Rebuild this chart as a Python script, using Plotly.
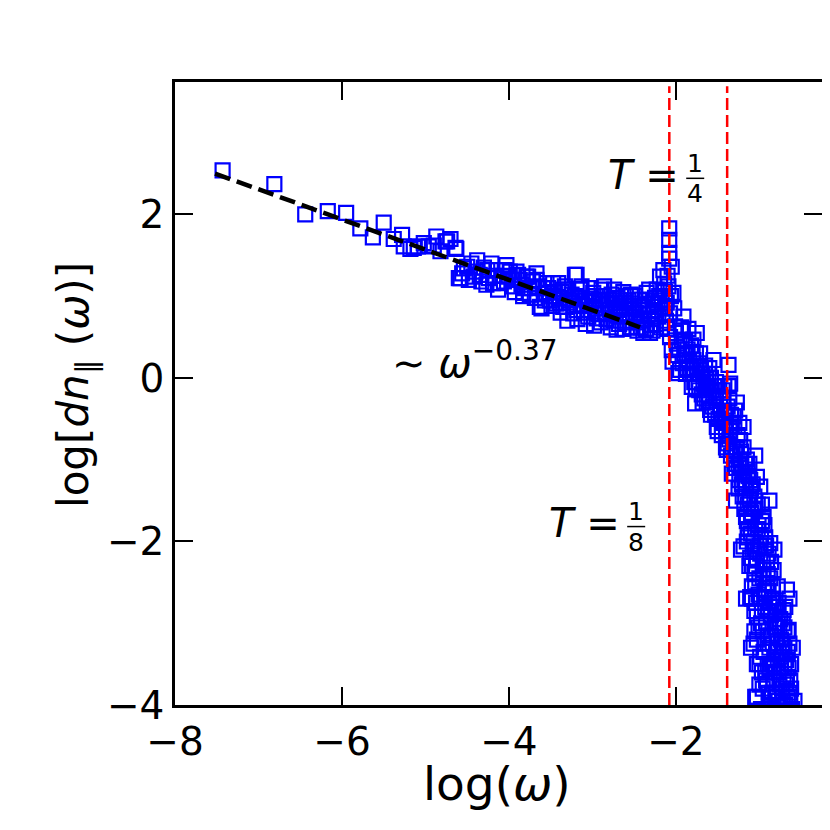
import plotly.graph_objects as go

# ---- data ----
sparse_x = [-7.43, -6.81, -6.44, -6.17, -5.95, -5.78, -5.63, -5.50, -5.38, -5.28, -5.18, -5.09,
            -4.96, -4.90, -4.87, -4.76, -4.70, -4.63, -4.82, -5.26, -5.14, -5.02, -4.74, -4.64]
sparse_y = [2.54, 2.37, 2.00, 2.04, 2.02, 1.83, 1.72, 1.90, 1.70, 1.75, 1.58, 1.61,
            1.61, 1.62, 1.73, 1.67, 1.70, 1.58, 1.55, 1.61, 1.59, 1.65, 1.67, 1.59]

mid_x = [-4.60, -4.58, -4.54, -4.50, -4.42, -4.38, -4.35, -4.30, -4.27, -4.26, -4.19, -4.15,
         -4.11, -4.08, -4.03, -4.01, -3.99, -3.95, -3.91, -3.87, -3.83, -3.83, -3.79, -3.77,
         -3.73, -3.67, -3.67, -3.63, -3.61, -3.59, -3.55, -3.55, -3.51, -3.47, -3.47, -3.43,
         -3.41, -3.37, -3.35, -3.35, -3.31, -3.29, -3.27, -3.23, -3.21, -3.21, -3.19, -3.19, -3.15,
         -4.56, -4.48, -4.45, -4.40, -4.33, -4.24, -4.21, -4.17, -4.13, -4.06, -4.05, -3.97,
         -3.93, -3.89, -3.85, -3.81, -3.75, -3.71, -3.69, -3.65, -3.57, -3.53, -3.49, -3.45, -3.39]
mid_y = [1.22, 1.22, 1.34, 1.36, 1.24, 1.44, 1.26, 1.35, 1.14, 1.32, 1.16, 1.32,
         1.16, 1.25, 1.38, 1.24, 1.30, 1.12, 1.30, 1.20, 1.00, 1.04, 1.24, 1.24,
         1.10, 1.28, 1.20, 0.87, 0.85, 1.10, 1.16, 1.04, 0.95, 1.00, 1.16, 0.91,
         1.16, 1.05, 0.87, 1.08, 0.87, 1.08, 0.95, 0.79, 1.26, 1.00, 0.83, 1.26, 1.08,
         1.28, 1.20, 1.40, 1.30, 1.18, 1.22, 1.40, 1.25, 1.08, 1.18, 1.32, 1.20,
         1.05, 1.26, 1.14, 1.10, 1.02, 1.18, 0.98, 1.12, 0.95, 1.10, 0.88, 1.05, 0.92]

plateau_x = [-3.12, -3.07, -3.05, -3.02, -2.99, -2.97, -2.95, -2.92, -2.89, -2.87, -2.85, -2.82,
             -2.79, -2.77, -2.75, -2.73, -2.71, -2.69, -2.67, -2.65, -2.63, -2.61, -2.59, -2.57,
             -2.55, -2.53, -2.51, -2.49, -2.47, -2.45, -2.43, -2.41, -2.39, -2.37, -2.35, -2.33,
             -2.31, -2.29, -2.27, -2.25, -2.23, -2.21, -2.19, -2.18, -2.17, -2.15, -2.14, -2.13, -2.12,
             -3.40, -3.38, -3.33, -3.30, -3.28, -3.25, -3.22, -3.18, -3.16, -3.13, -3.10, -3.08,
             -3.04, -3.01, -2.98, -2.96, -2.93, -2.90, -2.88, -2.86, -2.83, -2.81, -2.78, -2.76,
             -2.74, -2.72, -2.70, -2.68, -2.66, -2.64, -2.62, -2.60, -2.58, -2.56, -2.54, -2.52,
             -2.50, -2.48, -2.46, -2.44, -2.42, -2.40, -2.38, -2.36, -2.34, -2.32, -2.30, -2.28,
             -2.26, -2.24, -2.22, -2.20, -2.16, -2.11, -2.10, -2.13]
plateau_y = [0.90, 0.95, 0.75, 1.10, 1.04, 0.85, 0.73, 0.95, 1.08, 1.00, 0.80, 0.90,
             0.83, 1.02, 0.70, 0.92, 0.59, 0.85, 0.95, 0.75, 1.05, 0.68, 0.79, 0.95,
             0.62, 0.91, 0.75, 1.00, 0.68, 0.88, 0.83, 0.70, 0.55, 0.95, 1.04, 0.78,
             0.55, 0.65, 0.87, 0.98, 1.08, 0.75, 1.24, 0.62, 0.95, 1.32, 1.15, 0.85, 0.70,
             0.98, 0.80, 1.12, 0.70, 0.92, 1.02, 0.88, 0.72, 0.98, 1.12, 0.80, 0.66,
             0.88, 0.97, 0.64, 1.00, 0.78, 0.68, 0.90, 1.12, 0.72, 0.96, 0.62, 0.86,
             1.08, 0.78, 0.98, 0.66, 0.88, 0.60, 0.92, 1.00, 0.70, 0.85, 1.02, 0.62,
             0.88, 0.80, 0.58, 0.96, 0.62, 0.86, 0.72, 0.60, 0.90, 1.08, 0.72, 0.58,
             0.78, 0.66, 0.90, 1.00, 0.78, 0.92, 0.60, 1.05]

peak_x = [-2.08, -2.08, -2.08, -2.08, -2.05, -2.09, -2.10, -2.07, -2.06, -2.03, -2.01, -2.05,
          -2.07, -2.04, -2.02]
peak_y = [1.83, 1.69, 1.53, 1.46, 1.36, 1.12, 1.25, 0.79, 1.00, 1.04, 0.63, 0.34,
          0.50, 0.20, 0.85]

fall_x = [-1.97, -1.99, -1.95, -1.93, -1.91, -1.90, -1.87, -1.85, -1.83, -1.81, -1.79, -1.79,
          -1.77, -1.75, -1.75, -1.73, -1.71, -1.69, -1.67, -1.65, -1.63, -1.61, -1.59, -1.57,
          -1.55, -1.53, -1.51, -1.50, -1.47, -1.45, -1.43, -1.41, -1.39, -1.37, -1.37, -1.35,
          -1.35, -1.33, -1.31, -1.29, -1.27, -1.25, -1.23, -1.23, -1.21, -1.19, -1.19, -1.17,
          -1.15, -1.15, -1.13, -1.11, -1.11, -1.11, -1.10, -1.09, -1.07, -1.07, -1.05, -1.03,
          -1.03, -1.03, -1.03, -1.01, -1.00, -0.99, -0.99, -0.98, -0.97, -0.96, -0.95, -0.95,
          -0.93, -0.93, -0.91, -0.91, -0.90, -0.89, -0.88, -0.87, -0.86, -0.85, -0.84, -0.83,
          -0.82, -0.81, -0.79, -0.79, -0.78, -0.77, -0.75, -0.75, -0.73, -0.72, -0.71, -0.70,
          -0.69, -0.67, -0.67, -0.66, -0.65, -0.64, -0.63, -0.62, -0.61, -0.68, -0.75,
          -1.40, -1.05, -1.28, -0.88, -1.22, -0.82, -1.16, -0.64, -1.10, -0.60, -1.05, -0.58]
fall_y = [0.06, 0.42, 0.10, 0.47, 0.75, 0.30, 0.22, 0.60, 0.05, -0.11, 0.47, 0.22,
          -0.31, 0.14, 0.55, -0.05, 0.30, -0.20, -0.07, 0.15, -0.30, 0.05, -0.39, -0.15,
          0.22, -0.45, -0.60, -0.10, -0.35, -0.70, -0.27, -0.55, -0.88, 0.16, -0.10, -0.07,
          -0.65, -1.17, -0.47, -0.90, -0.30, -1.05, -0.76, -1.00, -1.30, -2.06, -0.60, -1.45,
          -1.00, -1.75, -1.20, -1.25, -1.49, -2.68, -1.90, -2.30, -1.60, -3.25, -2.50, -1.21,
          -2.23, -2.92, -3.90, -1.80, -2.05, -1.33, -3.41, -2.70, -1.55, -3.10, -1.70, -2.35,
          -3.60, -1.95, -2.51, -3.74, -2.85, -2.15, -3.30, -2.02, -4.00, -2.70, -3.50, -2.35,
          -3.05, -3.85, -3.17, -3.90, -2.55, -3.60, -3.41, -2.95, -3.80, -3.25, -2.84, -3.55,
          -4.00, -2.59, -3.66, -3.35, -3.08, -3.85, -3.90, -3.50, -4.05, -4.10, -4.10,
          -0.85, -0.95, -1.50, -1.50, -2.10, -2.10, -2.70, -2.70, -3.30, -3.30, -3.90, -3.95]

fall2_x = [-2.00, -1.96, -1.94, -1.92, -1.89, -1.88, -1.86, -1.84, -1.82, -1.80, -1.78, -1.76,
           -1.74, -1.72, -1.70, -1.68, -1.66, -1.64, -1.62, -1.60, -1.58, -1.56, -1.54, -1.52,
           -1.49, -1.48, -1.46, -1.44, -1.42, -1.40, -1.38, -1.36, -1.34, -1.32, -1.30, -1.28,
           -1.26, -1.24, -1.22, -1.20, -1.18, -1.17, -1.16, -1.14, -1.13, -1.12, -1.10, -1.09,
           -1.08, -1.06, -1.06, -1.05, -1.04, -1.02, -1.02, -1.01, -1.00, -0.98, -0.97, -0.97,
           -0.96, -0.94, -0.94, -0.94, -0.92, -0.92, -0.90, -0.90, -0.89, -0.88, -0.86, -0.86,
           -0.84, -0.83, -0.81, -0.80, -0.78, -0.77, -0.76, -0.74, -0.72, -0.72, -0.70, -0.69,
           -0.68, -0.66, -0.65, -0.63, -1.00, -0.98, -0.92, -0.84, -1.03, -1.06, -1.09, -1.12, -1.15]
fall2_y = [0.55, 0.35, 0.62, 0.18, 0.45, 0.05, 0.35, 0.20, 0.40, 0.10, -0.05, 0.30,
           0.05, -0.15, 0.10, 0.05, -0.25, 0.00, -0.10, -0.25, 0.00, -0.35, -0.10, -0.25,
           -0.50, -0.15, -0.45, -0.15, -0.40, -0.65, -0.35, -0.75, -0.45, -0.85, -0.60, -1.10,
           -0.70, -1.25, -0.90, -1.15, -1.60, -1.05, -1.35, -1.55, -1.85, -1.05, -1.35, -1.70,
           -2.10, -1.45, -2.40, -1.85, -2.75, -1.55, -2.10, -3.05, -2.45, -1.95, -2.85, -3.60,
           -2.25, -1.80, -2.60, -3.25, -2.05, -3.00, -2.40, -3.50, -3.85, -2.75, -2.25, -3.15,
           -2.55, -3.70, -2.85, -3.35, -3.00, -2.75, -3.75, -3.20, -3.00, -3.95, -3.30, -2.80,
           -3.75, -3.10, -3.55, -3.70, -3.75, -4.05, -4.08, -4.05, -3.50, -3.10, -2.70, -2.30, -2.00]

fall3_x = [-1.98, -1.92, -1.86, -1.80, -1.76, -1.72, -1.68, -1.64, -1.60, -1.58, -1.55, -1.52,
           -1.50, -1.47, -1.44, -1.42, -1.40, -1.38, -1.36, -1.34, -1.33, -1.30, -1.29, -1.27,
           -1.25, -1.24, -1.22, -1.20, -1.19, -1.18, -1.16, -1.14, -1.14, -1.12, -1.11, -1.10,
           -1.09, -1.08, -1.07, -1.06, -1.05, -1.04, -1.03, -1.02, -1.01, -1.00, -0.99, -0.98,
           -0.97, -0.96, -0.96, -0.95, -0.94, -0.93, -0.92, -0.91, -0.90, -0.89, -0.88, -0.87,
           -0.86, -0.85, -0.84, -0.83, -0.82, -0.80, -0.79, -0.78, -0.77, -0.76, -0.74, -0.73,
           -0.71, -0.70, -0.68, -0.66, -0.64, -0.62]
fall3_y = [0.28, 0.58, 0.12, 0.32, -0.12, 0.18, -0.30, -0.12, 0.12, -0.45, -0.22, -0.05,
           -0.65, -0.25, -0.55, -0.10, -0.45, -0.80, -0.25, -0.95, -0.60, -1.05, -0.40, -0.85,
           -1.35, -0.55, -1.10, -1.45, -0.85, -1.25, -1.70, -1.15, -1.95, -1.45, -2.20, -1.65,
           -2.55, -1.30, -2.00, -2.85, -1.60, -2.30, -3.20, -1.85, -2.65, -3.50, -2.15, -3.00,
           -1.75, -2.45, -3.80, -3.35, -2.05, -2.80, -3.70, -2.25, -3.15, -2.60, -3.55, -2.45,
           -2.90, -3.85, -3.25, -2.75, -3.60, -3.05, -2.80, -3.45, -3.95, -3.05, -3.55, -3.35,
           -3.70, -3.05, -3.45, -3.90, -3.25, -3.80]

data_x = sparse_x + mid_x + plateau_x + peak_x + fall_x + fall2_x + fall3_x
data_y = sparse_y + mid_y + plateau_y + peak_y + fall_y + fall2_y + fall3_y

fit_x = [-7.52, -2.43]
fit_y = [2.50, 0.62]

vlines_x = [-2.079, -1.386]   # ln(1/8), ln(1/4)

x_ticks = [-8, -6, -4, -2]
y_ticks = [-4, -2, 0, 2]

FONT = "DejaVu Sans"

fig = go.Figure()
fig.add_trace(go.Scatter(
    x=data_x, y=data_y, mode="markers",
    marker=dict(symbol="square-open", size=14, color="#0000ff", line=dict(width=2.2, color="#0000ff")),
    showlegend=False, cliponaxis=True))
fig.add_trace(go.Scatter(
    x=fit_x, y=fit_y, mode="lines",
    line=dict(color="black", width=4.5, dash="16px,7px"), showlegend=False))

for vx in vlines_x:
    fig.add_shape(type="line", xref="x", yref="paper", x0=vx, x1=vx, y0=0, y1=0.993,
                  line=dict(color="#ff0000", width=2.5, dash="12px,5px"))

def px2x(px):
    return -8 + (px - 175) / 83.45

def py2y(py):
    return (378 - py) / 81.7

ann = []
# T = 1/4
ann.append(dict(x=px2x(643), y=py2y(175), text="<i>T</i> =", font=dict(size=40)))
ann.append(dict(x=px2x(695), y=py2y(164), text="1", font=dict(size=25)))
ann.append(dict(x=px2x(695), y=py2y(194), text="4", font=dict(size=25)))
fig.add_shape(type="line", xref="x", yref="y", x0=px2x(686), x1=px2x(704), y0=py2y(178.5), y1=py2y(178.5),
              line=dict(color="black", width=1.5))
# T = 1/8
ann.append(dict(x=px2x(584), y=py2y(523), text="<i>T</i> =", font=dict(size=40)))
ann.append(dict(x=px2x(636), y=py2y(511), text="1", font=dict(size=25)))
ann.append(dict(x=px2x(636), y=py2y(542), text="8", font=dict(size=25)))
fig.add_shape(type="line", xref="x", yref="y", x0=px2x(627), x1=px2x(645), y0=py2y(526.5), y1=py2y(526.5),
              line=dict(color="black", width=1.5))
# power law label
ann.append(dict(x=px2x(475), y=py2y(360), text="∼ <i>ω</i><sup>−0.37</sup>", font=dict(size=40)))

for a in ann:
    a.update(xref="x", yref="y", showarrow=False, xanchor="center", yanchor="middle")
    a["font"].update(family=FONT, color="black")
    fig.add_annotation(**a)

# axis titles as annotations
fig.add_annotation(xref="paper", yref="paper", x=(497 - 175) / 647, y=(705 - 783) / 623,
                   text="log(<i>ω</i>)", showarrow=False, xanchor="center", yanchor="middle",
                   font=dict(family=FONT, size=47, color="black"))
fig.add_annotation(xref="paper", yref="paper", x=(76 - 175) / 647, y=(705 - 385) / 623,
                   text="log[<i>dn</i><sub>∥</sub> (<i>ω</i>)]", textangle=-90, showarrow=False,
                   xanchor="center", yanchor="middle",
                   font=dict(family=FONT, size=42, color="black"))

axis_common = dict(showgrid=False, zeroline=False, showline=True, linecolor="black", linewidth=2.5,
                   mirror="allticks", ticks="inside", ticklen=18, tickwidth=2, tickcolor="black",
                   automargin=False,
                   tickfont=dict(family=FONT, size=39, color="black"))
fig.update_xaxes(range=[-8, -0.25], tickvals=x_ticks, ticktext=[f"−{abs(v)}" if v < 0 else str(v) for v in x_ticks],
                 **axis_common)
fig.update_yaxes(range=[-4, 3.62], tickvals=y_ticks, ticktext=[f"−{abs(v)}" if v < 0 else str(v) for v in y_ticks],
                 **axis_common)

# page body adds an 8px offset, so margins are shifted to place the plot area as in the reference
fig.update_layout(width=830, height=830, margin=dict(l=167, r=16, t=74, b=133, autoexpand=False),
                  plot_bgcolor="white", paper_bgcolor="white",
                  font=dict(family=FONT, color="black"))

fig.write_html("out.html")
